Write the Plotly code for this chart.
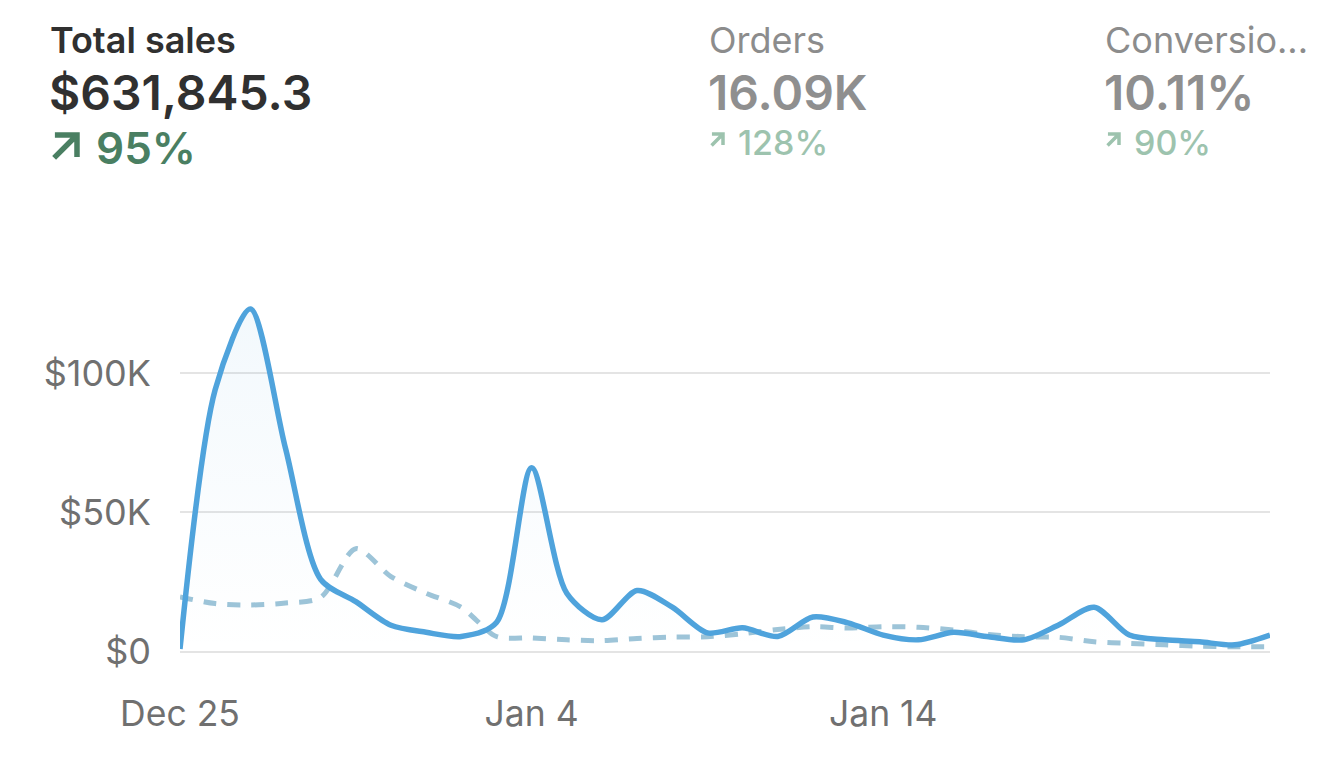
import plotly.graph_objects as go

# daily total sales, current period vs previous period (dashed)
dates = [
    "2023-12-25", "2023-12-26", "2023-12-27", "2023-12-28", "2023-12-29", "2023-12-30",
    "2023-12-31", "2024-01-01", "2024-01-02", "2024-01-03", "2024-01-04", "2024-01-05",
    "2024-01-06", "2024-01-07", "2024-01-08", "2024-01-09", "2024-01-10", "2024-01-11",
    "2024-01-12", "2024-01-13", "2024-01-14", "2024-01-15", "2024-01-16", "2024-01-17",
    "2024-01-18", "2024-01-19", "2024-01-20", "2024-01-21", "2024-01-22", "2024-01-23",
    "2024-01-24", "2024-01-25",
]
sales_current = [
    1000, 94000, 123000, 73000, 26000, 18000, 9500, 7000, 5500, 10500, 66000, 21000,
    11500, 22000, 16000, 6800, 8600, 5500, 12500, 10400, 6000, 4300, 7000, 5400,
    4300, 9700, 16000, 6000, 4300, 3600, 2500, 6000,
]
sales_previous = [
    19700, 17300, 16800, 17500, 19500, 37000, 27000, 21000, 16000, 5500, 5000, 4300,
    4000, 4800, 5300, 5400, 6500, 8000, 9000, 8500, 9000, 8800, 7800, 6200,
    5400, 5200, 3600, 3000, 2500, 2000, 1800, 1800,
]

tick_dates = ["2023-12-25", "2024-01-04", "2024-01-14"]
tick_labels = ["Dec 25", "Jan 4", "Jan 14"]
y_ticks = [0, 50000, 100000]
y_labels = ["$0", "$50K", "$100K"]

# header metrics
metric_names = ["Total sales", "Orders", "Conversio..."]
metric_values = ["$631,845.3", "16.09K", "10.11%"]
metric_changes = ["95%", "128%", "90%"]

FONT = "Inter"
W, H = 1320, 774
OFF = 8  # page body margin
L, R, T, B = 172, 58, 273, 126
pw, ph = W - L - R, H - T - B


# screen pixel -> paper coords
def px(x):
    return (x - OFF - L) / pw


def py(y):
    return (H - B - (y - OFF)) / ph


def arrow_path(x0, y0, s):
    # up-right arrow in a box of size s, top-left corner at (x0, y0)
    a = s * 0.12
    pts = [(x0 + a, y0 + s - a), (x0 + s, y0)]
    arm = [(x0 + s * 0.15, y0), (x0 + s, y0), (x0 + s, y0 + s * 0.85)]
    p = "M %.5f %.5f L %.5f %.5f " % (px(pts[0][0]), py(pts[0][1]), px(pts[1][0]), py(pts[1][1]))
    p += "M %.5f %.5f L %.5f %.5f L %.5f %.5f" % (px(arm[0][0]), py(arm[0][1]),
                                                   px(arm[1][0]), py(arm[1][1]),
                                                   px(arm[2][0]), py(arm[2][1]))
    return p


fig = go.Figure()

fig.add_trace(go.Scatter(
    x=dates, y=sales_previous, mode="lines",
    line=dict(color="#9dc4d8", width=5, dash="13px,11px", shape="spline", smoothing=0.8),
    hoverinfo="skip", showlegend=False,
))
fig.add_trace(go.Scatter(
    x=dates, y=sales_current, mode="lines",
    line=dict(color="#4fa3dc", width=5.5, shape="spline", smoothing=0.8),
    fill="tozeroy",
    fillgradient=dict(type="vertical",
                      colorscale=[[0, "rgba(79,163,220,0.0)"], [1, "rgba(79,163,220,0.07)"]]),
    hoverinfo="skip", showlegend=False,
))

ann = []
cols = [50, 709, 1105]
for i, c in enumerate(cols):
    ann.append(dict(x=px(c - 2), y=py(40), text=metric_names[i]))
    ann[-1]["font"] = dict(family=FONT, size=36, color="#303030" if i == 0 else "#8c8c8c",
                           weight=600 if i == 0 else 400)
    ann.append(dict(x=px(c - 3), y=py(93), text=metric_values[i]))
    ann[-1]["font"] = dict(family=FONT, size=48,
                           color="#303030" if i == 0 else "#8f8f8f", weight=600)
ann.append(dict(x=px(94), y=py(148), text=metric_changes[0],
                font=dict(family=FONT, size=44, color="#4a7f62", weight=600)))
for i, c in enumerate(cols[1:], start=1):
    ann.append(dict(x=px(c + 27), y=py(142), text=metric_changes[i],
                    font=dict(family=FONT, size=34, color="#9dc3ae", weight=500)))
for a in ann:
    a.update(xref="paper", yref="paper", showarrow=False, xanchor="left", yanchor="middle")

shapes = [dict(type="path", xref="paper", yref="paper", path=arrow_path(51, 135, 26),
               line=dict(color="#4a7f62", width=5.5))]
for c in cols[1:]:
    shapes.append(dict(type="path", xref="paper", yref="paper", path=arrow_path(c + 1, 134, 13),
                       line=dict(color="#9dc3ae", width=3.5)))

fig.update_layout(
    width=W, height=H,
    margin=dict(l=L, r=R, t=T, b=B),
    paper_bgcolor="white", plot_bgcolor="white",
    font=dict(family=FONT, color="#707070", size=28),
    annotations=ann,
    shapes=shapes,
    xaxis=dict(range=["2023-12-25", "2024-01-25"], tickvals=tick_dates, ticktext=tick_labels,
               showgrid=False, zeroline=False, showline=False, ticks="",
               tickfont=dict(size=35.5, color="#707070"), ticklabelstandoff=33),
    yaxis=dict(range=[-1500, 133000], tickvals=y_ticks, ticktext=y_labels,
               showgrid=True, gridcolor="#e4e4e4", gridwidth=2, zeroline=False,
               showline=False, ticks="", tickfont=dict(size=36, color="#707070"),
               ticklabelstandoff=28),
    hovermode=False,
)

fig.write_html("out.html")
